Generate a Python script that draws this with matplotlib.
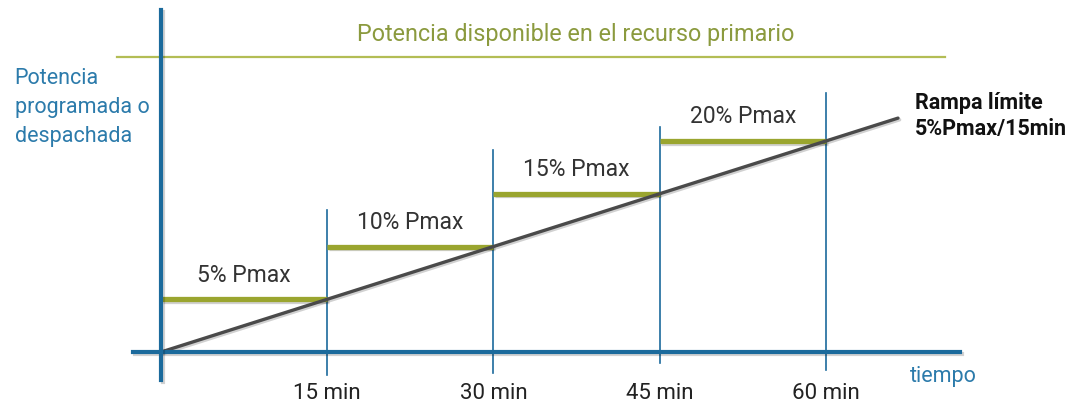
import matplotlib
matplotlib.use('Agg')
import matplotlib.pyplot as plt
import matplotlib.patheffects as pe

# data
minutes = [15, 30, 45, 60]
step_pct = [5, 10, 15, 20]
step_labels = ['5% Pmax', '10% Pmax', '15% Pmax', '20% Pmax']
tick_labels = ['15 min', '30 min', '45 min', '60 min']
ramp_rate = 5 / 15          # %Pmax per minute
ramp_end = 66.5             # minutes
available_pct = 28.0

BLUE = '#1b6a9c'
GREEN = '#9aa52f'
LIGHT_GREEN = '#b3bd55'
OLIVE_TXT = '#8b9a3e'
GREY = '#4a4a4a'
FONT = 'Roboto'

fig = plt.figure(figsize=(10.72, 4.07), dpi=100)
ax = fig.add_axes([0, 0, 1, 1])
ax.set_xlim(-14.53, 82.2)
ax.set_ylim(-5.21, 33.36)
ax.axis('off')

shadow = [pe.SimpleLineShadow(offset=(1.2, -1.2), alpha=0.18), pe.Normal()]

# top line: available power
ax.plot([-4.0, 70.7], [available_pct, available_pct], color=LIGHT_GREEN, lw=1.6, zorder=2)
ax.text(37.4, available_pct + 1.0, 'Potencia disponible en el recurso primario',
        color=OLIVE_TXT, fontsize=16.8, family=FONT, ha='center', va='bottom')

# vertical tick lines at each 15 min
tick_tops = [13.5, 19.1, 21.3, 24.5]
tick_bottoms = [-2.2, -2.0, -1.0, -1.7]
for m, top, bot in zip(minutes, tick_tops, tick_bottoms):
    ax.plot([m, m], [bot, top], color=BLUE, lw=1.2, zorder=3)

# green steps
starts = [0] + minutes[:-1]
for s, e, p, lab in zip(starts, minutes, step_pct, step_labels):
    ax.plot([s, e], [p, p], color=GREEN, lw=3.8, solid_capstyle='butt', zorder=4,
            path_effects=shadow)
    ax.text((s + e) / 2, p + 1.2, lab, color='#333333', fontsize=16.5, family=FONT,
            ha='center', va='bottom')

# ramp
ax.plot([0, ramp_end], [0, ramp_rate * ramp_end], color=GREY, lw=2.4, zorder=5,
        solid_capstyle='round', path_effects=shadow)
ax.text(68.0, 24.6, 'Rampa límite\n5%Pmax/15min', fontsize=15.5, family=FONT,
        weight='bold', color='#111111', ha='left', va='top', linespacing=1.2)

# axes
ax.plot([-2.5, 72.1], [0, 0], color=BLUE, lw=3.0, zorder=6, path_effects=shadow)
ax.plot([0, 0], [-2.65, 32.4], color=BLUE, lw=3.0, zorder=6, path_effects=shadow)

for m, lab in zip(minutes, tick_labels):
    ax.text(m, -2.9, lab, fontsize=16, family=FONT, color='#222222',
            ha='center', va='top')

ax.text(67.6, -1.3, 'tiempo', fontsize=15.5, family=FONT, color='#2c7bab',
        ha='left', va='top')
ax.text(-13.2, 26.9, 'Potencia\nprogramada o\ndespachada', fontsize=15.5, family=FONT,
        color='#2c7bab', ha='left', va='top', linespacing=1.5)

fig.savefig('out.png', dpi=100)
